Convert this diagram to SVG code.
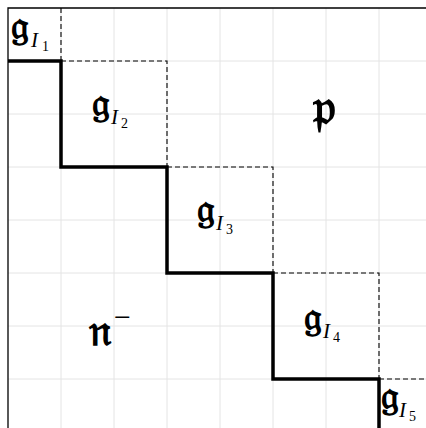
<svg xmlns="http://www.w3.org/2000/svg" width="426" height="428" viewBox="0 0 426 428">
<style>
.grid line{stroke:#e4e4e4;stroke-width:1}
.dash{stroke:#000;stroke-width:1.1;stroke-dasharray:5 3;fill:none}
.stair{stroke:#000;stroke-width:3.5;fill:none;stroke-linejoin:miter}
.frame{stroke:#000;stroke-width:1.3;fill:none}
.fk{font-family:"DejaVu Serif","DejaVu Sans",serif;font-weight:bold;fill:#000}
.it{font-family:"Liberation Serif",serif;font-style:italic;fill:#000}
.num{font-family:"Liberation Serif",serif;fill:#000}
</style>
<rect width="426" height="428" fill="#fff"/>
<g class="grid">
<line x1="61" y1="8" x2="61" y2="428"/><line x1="114" y1="8" x2="114" y2="428"/><line x1="167" y1="8" x2="167" y2="428"/><line x1="220" y1="8" x2="220" y2="428"/><line x1="273" y1="8" x2="273" y2="428"/><line x1="326" y1="8" x2="326" y2="428"/><line x1="379" y1="8" x2="379" y2="428"/>
<line x1="8" y1="61" x2="426" y2="61"/><line x1="8" y1="114" x2="426" y2="114"/><line x1="8" y1="167" x2="426" y2="167"/><line x1="8" y1="220" x2="426" y2="220"/><line x1="8" y1="273" x2="426" y2="273"/><line x1="8" y1="326" x2="426" y2="326"/><line x1="8" y1="379" x2="426" y2="379"/>
</g>
<path class="frame" d="M8,428 V8 H426"/>
<g id="connectors">
<path class="dash" d="M61,8 V61"/>
<path class="dash" d="M61,61 H167 V167"/>
<path class="dash" d="M167,167 H273 V273"/>
<path class="dash" d="M273,273 H379 V379"/>
<path class="dash" d="M379,379 H426"/>
<path class="stair" d="M8,61 H61 V167 H167 V273 H273 V379 H379 V428"/>
</g>
<g id="g1"><text class="fk" x="11" y="39" font-size="40">𝔤</text><text class="it" x="31" y="47" font-size="21">I</text><text class="num" x="42" y="51" font-size="14">1</text></g>
<g id="g2"><text class="fk" x="92" y="116" font-size="40">𝔤</text><text class="it" x="111" y="124" font-size="21">I</text><text class="num" x="121" y="128" font-size="14">2</text></g>
<g id="g3"><text class="fk" x="197" y="222" font-size="40">𝔤</text><text class="it" x="216" y="230" font-size="21">I</text><text class="num" x="226" y="234" font-size="14">3</text></g>
<g id="g4"><text class="fk" x="304" y="330" font-size="40">𝔤</text><text class="it" x="323" y="338" font-size="21">I</text><text class="num" x="333" y="342" font-size="14">4</text></g>
<g id="g5"><text class="fk" x="381" y="409" font-size="40">𝔤</text><text class="it" x="399" y="417" font-size="21">I</text><text class="num" x="409" y="421" font-size="14">5</text></g>
<g id="p"><text class="fk" x="313" y="124" font-size="50">𝔭</text></g>
<g id="n"><text class="fk" x="89" y="345" font-size="44">𝔫</text><text class="num" x="114" y="327" font-size="30">−</text></g>
</svg>
